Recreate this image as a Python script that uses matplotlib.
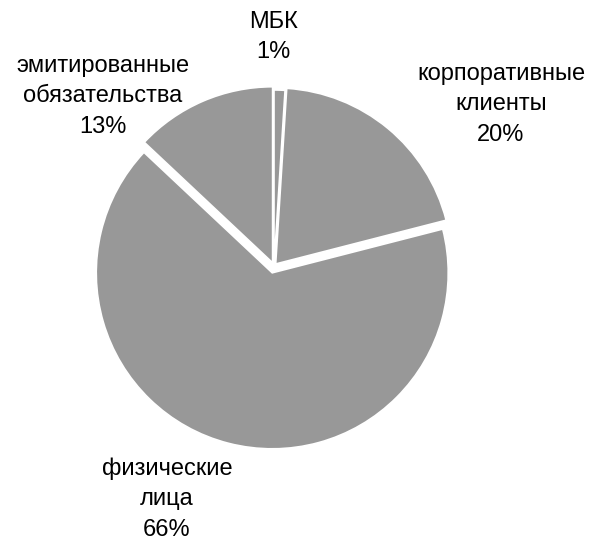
import matplotlib
matplotlib.use('Agg')
import matplotlib.pyplot as plt

# Data
categories = ['МБК', 'корпоративные\nклиенты', 'физические\nлица', 'эмитированные\nобязательства']
shares = [1, 20, 66, 13]
explode = [0.0, 0.015, 0.04, 0.02]

# label centres in pixels (x from left, y from top)
label_px = [(273, 37), (501, 104), (167, 499), (103, 96)]

W, H = 597, 541
R_PX = 176
CX, CY = 274, 266

plt.rcParams['font.family'] = ['Liberation Sans', 'DejaVu Sans']

fig = plt.figure(figsize=(W / 100, H / 100), dpi=100)
ax = fig.add_axes([0, 0, 1, 1])

ax.pie(shares, explode=explode, startangle=90, counterclock=False,
       colors=['#989898'] * len(shares),
       wedgeprops=dict(edgecolor='white', linewidth=1.2))

ax.set_xlim(-CX / R_PX, (W - CX) / R_PX)
ax.set_ylim(-(H - CY) / R_PX, CY / R_PX)
ax.set_aspect('equal')
ax.axis('off')

for cat, val, (px, py) in zip(categories, shares, label_px):
    x = (px - CX) / R_PX
    y = (CY - py) / R_PX
    ax.text(x, y, f'{cat}\n{val}%', ha='center', va='center',
            fontsize=17, linespacing=1.5, color='black')

plt.savefig('out.png', dpi=100)
plt.close()
